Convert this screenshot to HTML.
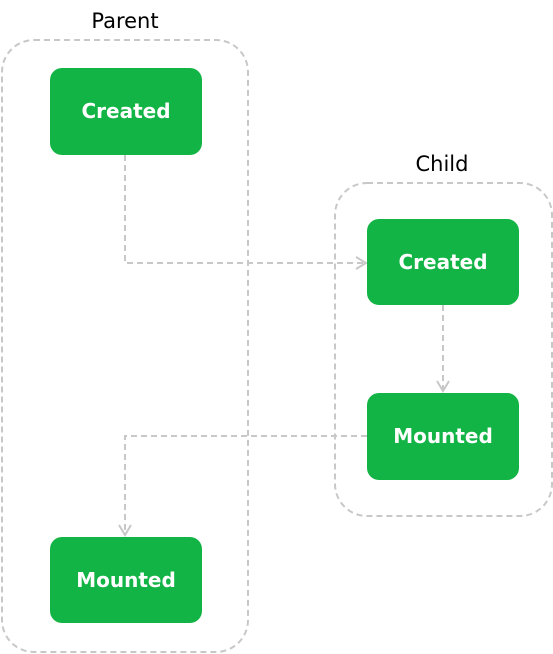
<!DOCTYPE html>
<html><head><style>body{margin:0;background:#fff}svg{display:block}</style></head><body>
<svg width="553" height="654" viewBox="0 0 553 654" xmlns="http://www.w3.org/2000/svg">
<g fill="none" stroke="#c8c8c8" stroke-width="2" stroke-dasharray="6,4">
<rect x="2" y="40" width="246" height="612" rx="32"/>
<rect x="335" y="183" width="217" height="333" rx="32"/>
<path d="M125 155 V263 H365"/>
<path d="M443 305 V390"/>
<path d="M367 436 H125 V533"/>
</g>
<g fill="none" stroke="#c8c8c8" stroke-width="2">
<path d="M356 257 L366 263 L356 269"/>
<path d="M437 381 L443 391 L449 381"/>
<path d="M119 525 L125 535 L131 525"/>
</g>
<g fill="#13b446">
<rect x="50" y="68" width="152" height="87" rx="12"/>
<rect x="367" y="219" width="152" height="86" rx="12"/>
<rect x="367" y="393" width="152" height="87" rx="12"/>
<rect x="50" y="537" width="152" height="86" rx="12"/>
</g>
<g font-family="'DejaVu Sans','Liberation Sans',sans-serif" font-weight="bold" font-size="20" fill="#fff" text-anchor="middle">
<text x="126" y="118">Created</text>
<text x="443" y="269">Created</text>
<text x="443" y="443">Mounted</text>
<text x="126" y="587">Mounted</text>
</g>
<g font-family="'DejaVu Sans','Liberation Sans',sans-serif" font-size="21" fill="#000" text-anchor="middle">
<text x="125" y="28">Parent</text>
<text x="442" y="171">Child</text>
</g>
</svg>
</body></html>
